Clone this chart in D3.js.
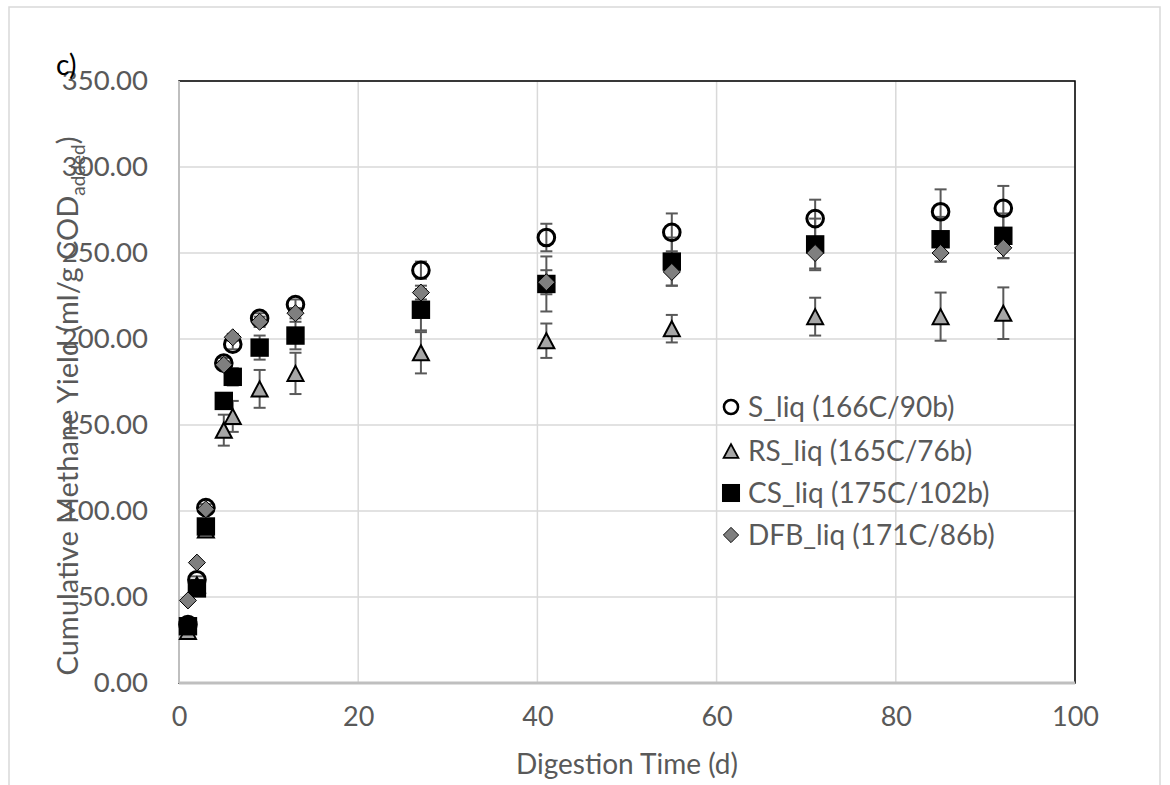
<!DOCTYPE html>
<html><head><meta charset="utf-8">
<script src="https://cdn.jsdelivr.net/npm/d3@7"></script>
<style>
html,body{margin:0;padding:0;background:#fff;}
svg{display:block;font-family:Lato,"Open Sans",sans-serif;}
</style></head>
<body>
<svg id="chart" width="1170" height="785"></svg>
<script>
// ---- data ----
const days = [1, 2, 3, 5, 6, 9, 13, 27, 41, 55, 71, 85, 92];
const sLiq   = [34, 60, 102, 186, 197, 212, 220, 240, 259, 262, 270, 274, 276];
const sErr   = [2, 2, 2, 3, 3, 3, 3, 5, 8, 11, 11, 13, 13];
const rsLiq  = [30, 57, 89, 147, 155, 171, 180, 192, 199, 206, 213, 213, 215];
const rsErr  = [2, 3, 3, 9, 9, 11, 12, 12, 10, 8, 11, 14, 15];
const csLiq  = [33, 55, 91, 164, 178, 195, 202, 217, 232, 245, 255, 258, 260];
const csErr  = [2, 2, 3, 4, 5, 7, 8, 12, 16, 14, 15, 13, 13];
const dfbLiq = [48, 70, 101, 185, 201, 210, 215, 227, 233, 239, 250, 250, 253];
const dfbErr = [1, 1, 1, 2, 2, 3, 3, 4, 7, 8, 9, 5, 6];
const seriesNames = ["S_liq (166C/90b)", "RS_liq (165C/76b)", "CS_liq (175C/102b)", "DFB_liq (171C/86b)"];
const xTicks = [0, 20, 40, 60, 80, 100];
const yTicks = [0, 50, 100, 150, 200, 250, 300, 350];

const series = [
  {name: seriesNames[0], vals: sLiq, err: sErr, shape: "circle"},
  {name: seriesNames[1], vals: rsLiq, err: rsErr, shape: "triangle"},
  {name: seriesNames[2], vals: csLiq, err: csErr, shape: "square"},
  {name: seriesNames[3], vals: dfbLiq, err: dfbErr, shape: "diamond"}
];

const svg = d3.select("#chart");
const L = 179, R = 1075, T = 81, B = 683;
const x = d3.scaleLinear().domain([0, 100]).range([L, R]);
const y = d3.scaleLinear().domain([0, 350]).range([B, T]);
const textCol = "#595959";

// outer frame
svg.append("rect").attr("x", 9).attr("y", 7).attr("width", 1151).attr("height", 800)
  .attr("fill", "none").attr("stroke", "#d9d9d9").attr("stroke-width", 1.5);

// gridlines
svg.append("g").selectAll("line.h").data(yTicks).join("line")
  .attr("x1", L).attr("x2", R).attr("y1", d => y(d)).attr("y2", d => y(d))
  .attr("stroke", "#d9d9d9").attr("stroke-width", 1.5);
svg.append("g").selectAll("line.v").data(xTicks).join("line")
  .attr("y1", T).attr("y2", B).attr("x1", d => x(d)).attr("x2", d => x(d))
  .attr("stroke", "#d9d9d9").attr("stroke-width", 1.5);

// plot border (black) then gray axis lines
svg.append("rect").attr("x", L).attr("y", T).attr("width", R - L).attr("height", B - T)
  .attr("fill", "none").attr("stroke", "#000").attr("stroke-width", 1.5);
svg.append("line").attr("x1", L).attr("x2", L).attr("y1", T).attr("y2", B)
  .attr("stroke", "#bfbfbf").attr("stroke-width", 2);
svg.append("line").attr("x1", L).attr("x2", R).attr("y1", B).attr("y2", B)
  .attr("stroke", "#bfbfbf").attr("stroke-width", 3);

// axes via d3 (labels only)
const yAxis = d3.axisLeft(y).tickValues(yTicks).tickFormat(d3.format(".2f")).tickSize(0).tickPadding(31);
const gy = svg.append("g").attr("transform", `translate(${L},0)`).call(yAxis);
gy.select(".domain").remove();
gy.selectAll("text").attr("fill", textCol).style("font-size", "27.5px").style("font-family", "Lato");

const xAxis = d3.axisBottom(x).tickValues(xTicks).tickFormat(d3.format("d")).tickSize(0).tickPadding(24);
const gx = svg.append("g").attr("transform", `translate(0,${B})`).call(xAxis);
gx.select(".domain").remove();
gx.selectAll("text").attr("fill", textCol).style("font-size", "27px").style("font-family", "Lato");

// axis titles
svg.append("text").attr("x", (L + R) / 2).attr("y", 774).attr("text-anchor", "middle")
  .attr("fill", textCol).style("font-size", "28px").text("Digestion Time (d)");
const yt = svg.append("text").attr("transform", "translate(78,406) rotate(-90)")
  .attr("text-anchor", "middle").attr("fill", textCol).style("font-size", "29px");
yt.append("tspan").text("Cumulative Methane Yield (ml/g COD");
yt.append("tspan").attr("dy", 7).style("font-size", "19px").text("added");
yt.append("tspan").attr("dy", -7).text(")");

// label c)
svg.append("text").attr("x", 56).attr("y", 75).attr("fill", "#000").style("font-size", "28px").text("c)");

// marker drawing
function drawMarker(g, shape, cx, cy, s) {
  if (shape === "circle") {
    g.append("circle").attr("cx", cx).attr("cy", cy).attr("r", 8.3 * s)
      .attr("fill", "none").attr("stroke", "#000").attr("stroke-width", 3 * s);
  } else if (shape === "square") {
    const h = 9.2 * s;
    g.append("rect").attr("x", cx - h).attr("y", cy - h).attr("width", 2 * h).attr("height", 2 * h)
      .attr("fill", "#000");
  } else if (shape === "triangle") {
    const w = 8 * s, h = 7.5 * s;
    g.append("path").attr("d", `M${cx},${cy - h}L${cx + w},${cy + h}L${cx - w},${cy + h}Z`)
      .attr("fill", "#a6a6a6").attr("stroke", "#000").attr("stroke-width", 2 * s).attr("stroke-linejoin", "miter");
  } else if (shape === "diamond") {
    const h = 8.5 * s;
    g.append("path").attr("d", `M${cx},${cy - h}L${cx + h},${cy}L${cx},${cy + h}L${cx - h},${cy}Z`)
      .attr("fill", "#7f7f7f").attr("stroke", "#000").attr("stroke-width", 1 * s);
  }
}

// error bars
const eb = svg.append("g");
series.forEach(sr => {
  sr.vals.forEach((v, i) => {
    const cx = x(days[i]), y1 = y(v + sr.err[i]), y2 = y(v - sr.err[i]);
    eb.append("line").attr("x1", cx).attr("x2", cx).attr("y1", y1).attr("y2", y2)
      .attr("stroke", "#595959").attr("stroke-width", 2);
    [y1, y2].forEach(yy => eb.append("line").attr("x1", cx - 6).attr("x2", cx + 6)
      .attr("y1", yy).attr("y2", yy).attr("stroke", "#595959").attr("stroke-width", 2));
  });
});

// markers
series.forEach(sr => {
  const g = svg.append("g");
  sr.vals.forEach((v, i) => drawMarker(g, sr.shape, x(days[i]), y(v), 1));
});

// legend
const legY = [407, 451, 493, 535];
const legScale = {circle: 0.85, triangle: 0.92, square: 0.98, diamond: 0.9};
series.forEach((sr, i) => {
  const g = svg.append("g");
  drawMarker(g, sr.shape, 731, legY[i], legScale[sr.shape]);
  g.append("text").attr("x", 748).attr("y", legY[i]).attr("dy", "0.35em")
    .attr("fill", textCol).style("font-size", "28px").text(sr.name);
});
</script>
</body></html>
